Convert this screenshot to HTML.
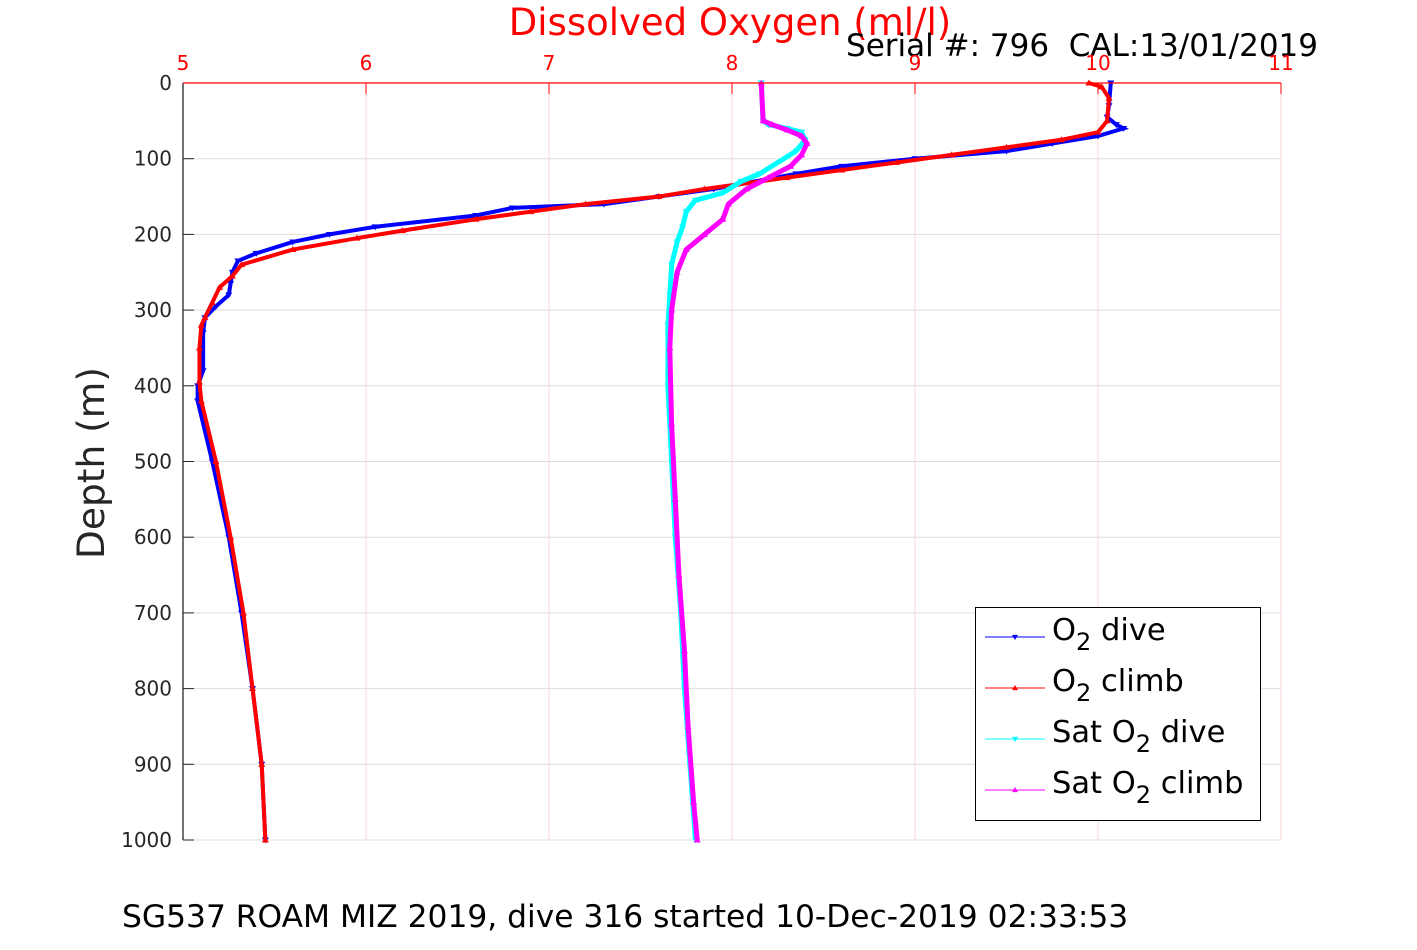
<!DOCTYPE html>
<html><head><meta charset="utf-8"><style>
body{margin:0;background:#fff;font-family:"Liberation Sans","DejaVu Sans",sans-serif}
svg text{font-family:"DejaVu Sans","Liberation Sans",sans-serif}
</style></head><body>
<svg id="c" width="1417" height="945" xmlns="http://www.w3.org/2000/svg">
<text x="730" y="35" font-size="37" fill="#ff0000" text-anchor="middle">Dissolved Oxygen (ml/l)</text>
<text x="1318" y="56" font-size="31" text-anchor="end" xml:space="preserve">Serial #: 796  CAL:13/01/2019</text>
<text x="122" y="927" font-size="31.3">SG537 ROAM MIZ 2019, dive 316 started 10-Dec-2019 02:33:53</text>
<text transform="translate(104,463) rotate(-90)" font-size="37.5" text-anchor="middle" fill="#262626">Depth (m)</text>
<g id="grid"></g><g id="series"></g><g id="axes"></g>
<g id="legend">
<rect x="975.5" y="607.5" width="285" height="213" fill="#fff" stroke="#000" stroke-width="1"/>
</g>
</svg>
<script>
const xTicks=[5,6,7,8,9,10,11];
const yTicks=[0,100,200,300,400,500,600,700,800,900,1000];
const diveDepth=[0,30,45,55,60,70,80,90,100,110,120,140,150,160,165,175,190,200,210,225,235,250,265,280,295,310,330,380,400,420,500,600,700,800,900,1000];
const diveO2=[10.07,10.06,10.05,10.1,10.14,10.0,9.75,9.5,9.0,8.6,8.35,7.9,7.6,7.3,6.8,6.6,6.05,5.8,5.6,5.4,5.3,5.27,5.26,5.25,5.18,5.12,5.11,5.11,5.08,5.08,5.16,5.25,5.32,5.38,5.43,5.45];
const climbDepth=[0,5,20,50,65,75,85,95,105,115,125,140,150,160,170,180,195,205,220,240,255,270,290,310,320,350,395,420,500,600,700,800,900,1000];
const climbO2=[9.95,10.02,10.06,10.05,10.0,9.8,9.5,9.2,8.9,8.6,8.3,7.85,7.6,7.2,6.9,6.6,6.2,5.95,5.6,5.32,5.27,5.2,5.16,5.12,5.1,5.09,5.09,5.1,5.18,5.26,5.33,5.38,5.43,5.45];
const satDiveDepth=[0,50,55,60,65,75,90,120,130,145,155,170,190,210,240,280,320,400,500,600,700,800,900,1000];
const satDiveO2=[8.16,8.17,8.2,8.3,8.38,8.4,8.35,8.15,8.05,7.95,7.8,7.75,7.73,7.7,7.67,7.66,7.65,7.65,7.67,7.69,7.72,7.74,7.77,7.8];
const satClimbDepth=[0,50,55,62,70,80,95,110,125,140,160,180,200,220,250,300,350,450,550,650,750,850,950,1000];
const satClimbO2=[8.16,8.17,8.22,8.3,8.38,8.41,8.38,8.32,8.2,8.08,7.98,7.95,7.85,7.75,7.7,7.67,7.66,7.67,7.69,7.71,7.74,7.76,7.79,7.81];
const NS="http://www.w3.org/2000/svg";
const X=v=>183+(v-5)*183, Y=d=>83+d*0.757;
function mk(tag,a,p){const e=document.createElementNS(NS,tag);for(const k in a)e.setAttribute(k,a[k]);p.appendChild(e);return e;}
const grid=document.getElementById('grid'),axes=document.getElementById('axes'),ser=document.getElementById('series');
xTicks.forEach(v=>{const l=mk('line',{x1:X(v),x2:X(v),y1:83,y2:840,stroke:'#ffd6d6','stroke-width':1},grid);

mk('line',{x1:X(v),x2:X(v),y1:83,y2:94,stroke:'#f00'},axes);
const t=mk('text',{x:X(v),y:70,'font-size':20,fill:'#f00','text-anchor':'middle'},axes);t.textContent=v;
});
yTicks.forEach(d=>{const l=mk('line',{x1:183,x2:1281,y1:Y(d),y2:Y(d),stroke:'#dedede','stroke-width':1},grid);

mk('line',{x1:183,x2:194,y1:Y(d),y2:Y(d),stroke:'#262626'},axes);
const t=mk('text',{x:172,y:Y(d)+7,'font-size':20,fill:'#262626','text-anchor':'end'},axes);t.textContent=d;
});
mk('line',{x1:183,x2:183,y1:83,y2:840,stroke:'#262626','stroke-width':1.3},axes);
mk('line',{x1:183,x2:1281,y1:83,y2:83,stroke:'#f00','stroke-width':1.3},axes);
function tri(cx,cy,down,col,p,s){const pts=down?`${cx-s},${cy-s*0.7} ${cx+s},${cy-s*0.7} ${cx},${cy+s}`:`${cx-s},${cy+s*0.7} ${cx+s},${cy+s*0.7} ${cx},${cy-s}`;return mk('polygon',{points:pts,fill:col},p);}
function series(name,ds,vs,col,down,w){const g=mk('g',{},ser);
mk('polyline',{points:ds.map((d,i)=>X(vs[i])+','+Y(d)).join(' '),fill:'none',stroke:col,'stroke-width':w},g);
ds.forEach((d,i)=>tri(X(vs[i]),Y(d),down,col,g,3.5));}
series('o2-dive-series',diveDepth,diveO2,'#0000ff',true,4);
series('o2-climb-series',climbDepth,climbO2,'#ff0000',false,4);
series('sat-o2-dive-series',satDiveDepth,satDiveO2,'#00ffff',true,5);
series('sat-o2-climb-series',satClimbDepth,satClimbO2,'#ff00ff',false,5);
const leg=document.getElementById('legend');
[['O','2',' dive','#0000ff',true],['O','2',' climb','#ff0000',false],['Sat O','2',' dive','#00ffff',true],['Sat O','2',' climb','#ff00ff',false]].forEach((e,i)=>{
const y=637+i*51;const g=mk('g',{},leg);
mk('line',{x1:985,x2:1045,y1:y,y2:y,stroke:e[3],'stroke-width':1},g);tri(1015,y,e[4],e[3],g,3);
const t=mk('text',{x:1052,y:y+3,'font-size':30.5},g);
t.innerHTML=e[0]+'<tspan dy="10" font-size="24">'+e[1]+'</tspan><tspan dy="-10">'+e[2]+'</tspan>';});
</script>
</body></html>
